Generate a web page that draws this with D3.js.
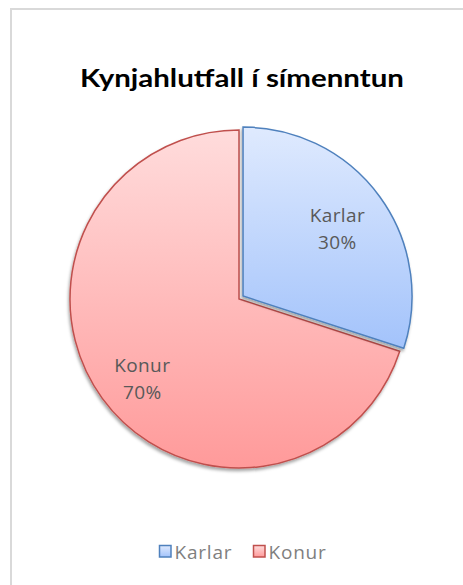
<!DOCTYPE html>
<html><head><meta charset="utf-8">
<script src="https://cdn.jsdelivr.net/npm/d3@7"></script>
<style>
html,body{margin:0;padding:0;background:#fff;}
svg{display:block;}
</style></head>
<body>
<script>
const title = "Kynjahlutfall í símenntun";
const categories = ["Karlar", "Konur"];
const values = [30, 70];
const labels = ["30%", "70%"];
const gradTop = ["#dfeafe", "#ffdcdc"];
const gradBottom = ["#a3c3fb", "#ff9a9a"];
const strokes = ["#4f81bd", "#c0504d"];

const W = 463, H = 585;
const svg = d3.select("body").append("svg").attr("width", W).attr("height", H);
const defs = svg.append("defs");

// frame
svg.append("rect").attr("x", 11).attr("y", 9).attr("width", W + 20).attr("height", H + 20)
  .attr("fill", "#fff").attr("stroke", "#d9d9d9").attr("stroke-width", 2);

// title
svg.append("text").attr("x", 242).attr("y", 87).attr("text-anchor", "middle")
  .attr("font-family", "Lato, 'DejaVu Sans', sans-serif").attr("font-weight", "bold")
  .attr("font-size", 24).attr("fill", "#000")
  .attr("textLength", 324).attr("lengthAdjust", "spacingAndGlyphs").text(title);

categories.forEach((c, i) => {
  const g = defs.append("linearGradient").attr("id", "g" + i).attr("x1", 0).attr("y1", 0).attr("x2", 0).attr("y2", 1);
  g.append("stop").attr("offset", "0%").attr("stop-color", gradTop[i]);
  g.append("stop").attr("offset", "100%").attr("stop-color", gradBottom[i]);
});
const f = defs.append("filter").attr("id", "sh").attr("x", "-20%").attr("y", "-20%").attr("width", "140%").attr("height", "140%");
f.append("feDropShadow").attr("dx", -1).attr("dy", 2.5).attr("stdDeviation", 1.6)
  .attr("flood-color", "#000").attr("flood-opacity", 0.35);

const cx = 239, cy = 299, R = 169;
const pie = d3.pie().sort(null).value(d => d)(values);
const arc = d3.arc().innerRadius(0).outerRadius(R);
const explode = [5, 0];

const g = svg.append("g").attr("transform", `translate(${cx},${cy})`);
[1, 0].forEach(i => {
  const p = pie[i];
  const mid = (p.startAngle + p.endAngle) / 2;
  const dx = Math.sin(mid) * explode[i], dy = -Math.cos(mid) * explode[i];
  g.append("path").attr("d", arc(p))
    .attr("transform", `translate(${dx},${dy})`)
    .attr("fill", `url(#g${i})`).attr("stroke", strokes[i]).attr("stroke-width", 1.5)
    .attr("stroke-linejoin", "miter")
    .attr("filter", "url(#sh)");
});

const labelRatio = [0.69, 0.74];
const labelAngleShift = [0, 0.058];
[0, 1].forEach(i => {
  const p = pie[i];
  const mid = (p.startAngle + p.endAngle) / 2 - labelAngleShift[i];
  const rr = R * labelRatio[i] + explode[i];
  const lx = Math.sin(mid) * rr, ly = -Math.cos(mid) * rr;
  const t = g.append("text").attr("text-anchor", "middle")
    .attr("font-family", "'Open Sans', 'DejaVu Sans', sans-serif").attr("font-size", 19)
    .attr("letter-spacing", 0.4).attr("fill", "#595959");
  t.append("tspan").attr("x", lx).attr("y", ly - 6).text(categories[i]);
  t.append("tspan").attr("x", lx).attr("y", ly + 21).text(labels[i]);
});

// legend
const leg = svg.append("g");
const legX = [159.5, 253.5];
categories.forEach((c, i) => {
  leg.append("rect").attr("x", legX[i]).attr("y", 545.5).attr("width", 11.5).attr("height", 11.5)
    .attr("fill", `url(#g${i})`).attr("stroke", strokes[i]).attr("stroke-width", 1.5);
  leg.append("text").attr("x", legX[i] + 15).attr("y", 559)
    .attr("font-family", "'Open Sans', 'DejaVu Sans', sans-serif").attr("font-size", 19)
    .attr("letter-spacing", 0.8).attr("fill", "#7f7f7f").text(c);
});
</script>
</body></html>
